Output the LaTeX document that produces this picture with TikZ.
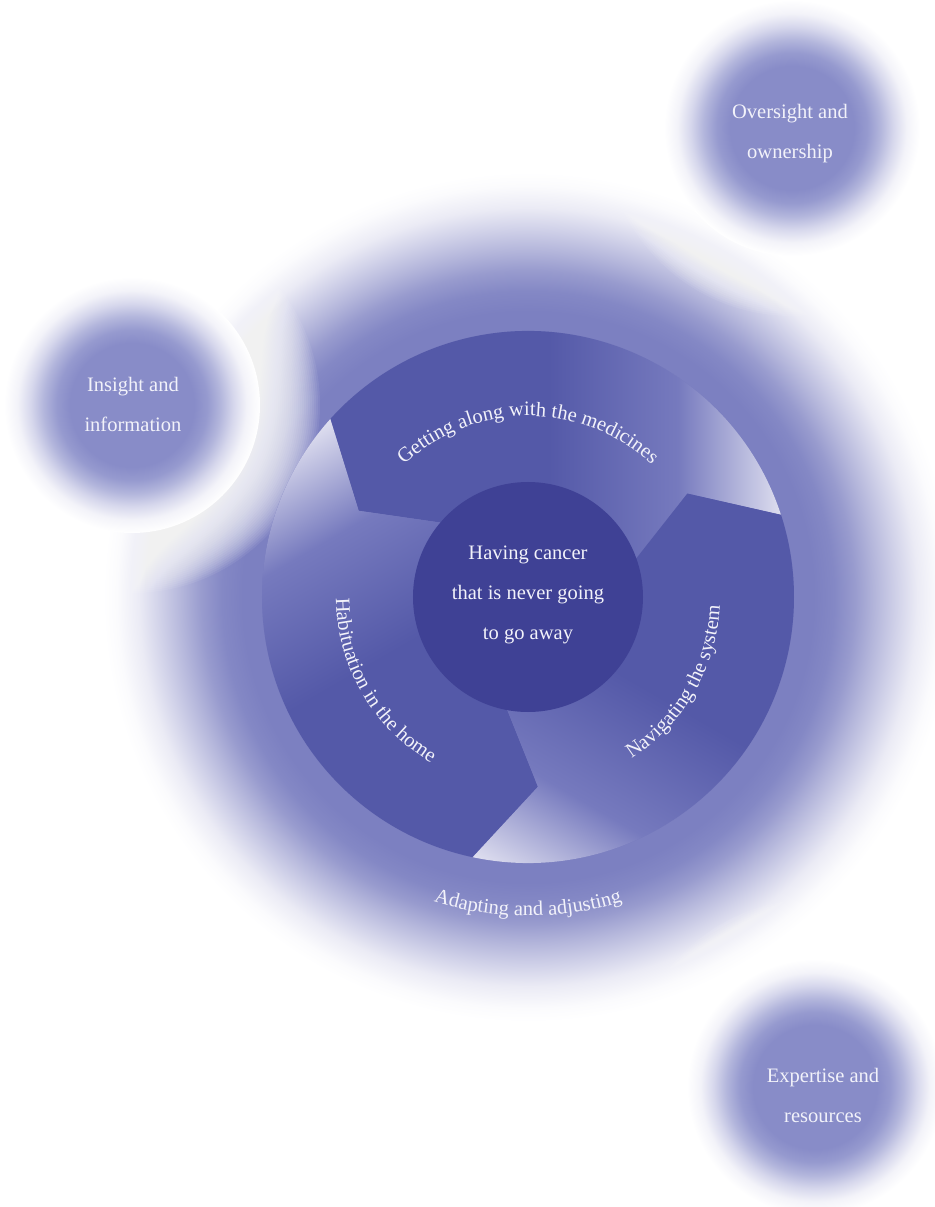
\documentclass[tikz,border=0pt]{standalone}
\usepackage{fontspec}
\setmainfont{Liberation Serif}
\usetikzlibrary{decorations.text}

\definecolor{ringdark}{RGB}{84,89,168}
\definecolor{ringmid}{RGB}{118,122,190}
\definecolor{ringlight}{RGB}{224,224,240}
\definecolor{coredark}{RGB}{63,65,149}
\definecolor{labelcol}{RGB}{242,242,250}
% glow round the ring, from full colour out to white
\definecolor{glowcol}{RGB}{124,128,193}
\definecolor{glowa}{RGB}{132,136,197}
\definecolor{glowb}{RGB}{152,155,206}
\definecolor{glowc}{RGB}{180,182,219}
\definecolor{glowd}{RGB}{209,210,233}
\definecolor{glowe}{RGB}{235,235,245}
\definecolor{glowf}{RGB}{251,251,253}
% the bubbles
\definecolor{bubblecol}{RGB}{136,140,200}
\definecolor{bubblea}{RGB}{150,154,207}
\definecolor{bubbleb}{RGB}{179,182,220}
\definecolor{bubblec}{RGB}{214,215,236}
\definecolor{bubbled}{RGB}{243,243,249}

% the inner 50bp of each shading is stretched over the shaded path
\pgfdeclarehorizontalshading{segfade}{100bp}{color(0bp)=(ringdark); color(51.8bp)=(ringdark); color(63.4bp)=(ringmid); color(72.8bp)=(ringlight); color(100bp)=(ringlight)}
\pgfdeclareradialshading{bigglow}{\pgfpoint{0bp}{0bp}}{color(0bp)=(glowcol); color(16.8bp)=(glowcol); color(18bp)=(glowa); color(19.2bp)=(glowb); color(20.4bp)=(glowc); color(21.7bp)=(glowd); color(22.9bp)=(glowe); color(24.2bp)=(glowf); color(25bp)=(white); color(50bp)=(white)}
\pgfdeclareradialshading{smallglow}{\pgfpoint{0bp}{0bp}}{color(0bp)=(bubblecol); color(12.1bp)=(bubblecol); color(14.7bp)=(bubblea); color(17.3bp)=(bubbleb); color(19.8bp)=(bubblec); color(22.4bp)=(bubbled); color(25bp)=(white); color(50bp)=(white)}

\newcommand{\ringfont}{\fontsize{15.4}{30}\selectfont}
% one arrow of the ring, tail at angle #1: notched tail, pointed head
\newcommand{\arrowseg}[1]{(#1:266) arc[start angle=#1, end angle=#1+120, radius=266] -- (#1+135:190) -- (#1+120:110) arc[start angle=#1+120, end angle=#1, radius=110] -- (#1+15:190) -- cycle}

\begin{document}
\begin{tikzpicture}[
      x=0.75pt, y=0.75pt,
      halo/.style={fill=white, opacity=0.07},
      bubble/.style={shading=smallglow},
      every node/.style={align=center, font=\ringfont, text=labelcol},
      ringtext/.style={decorate, decoration={text along path, text align=center, text color=labelcol, text={|\ringfont|#1}}}
      ]

      % the page
      \useasboundingbox[fill=white] (-528,-610) rectangle (407,597);

      \coordinate (ringc) at (0,0);
      \coordinate (insightc) at (-396,192);
      \coordinate (oversightc) at (264,469);
      \coordinate (expertisec) at (287,-490);

      % soft glow round the ring
      \shade[shading=bigglow] (ringc) circle (425);

      % the three bubbles, each with a white halo that eats into the glow
      \foreach \c in {insightc, oversightc, expertisec} {
        \foreach \r in {124,126,...,188}
          \fill[halo] (\c) circle (\r);
        \shade[bubble] (\c) circle (128);
      }

      % the ring: three arrows running anticlockwise
      % every arrow fades out towards its tail
      \fill[ringmid] (ringc) circle (266);
      \foreach \a/\s in {18/0, 138/120, 258/240} {
        \begin{scope}
          \clip \arrowseg{\a};
          \shade[shading=segfade, shading angle=\s] (-280,-280) rectangle (280,280);
        \end{scope}
      }

      % the core
      \fill[coredark] (ringc) circle (115);
      \node (core) at (0,2) {Having cancer\\that is never going\\to go away};

      % labels set along the ring
      \path[ringtext={Getting along with the medicines}] (150:181) arc[start angle=150, end angle=30, radius=181];
      \path[ringtext={Habituation in the home}] (160:192) arc[start angle=160, end angle=260, radius=192];
      \path[ringtext={Navigating the system}] (280:192) arc[start angle=280, end angle=380, radius=192];
      \path[ringtext={Adapting and adjusting}] (240:319) arc[start angle=240, end angle=300, radius=319];

      % bubble labels
      \node (insight) at (-395,193) {Insight and\\information};
      \node (oversight) at (262,463) {Oversight and\\ownership};
      \node (expertise) at (295,-498) {Expertise and\\resources};
    \end{tikzpicture}
\end{document}
